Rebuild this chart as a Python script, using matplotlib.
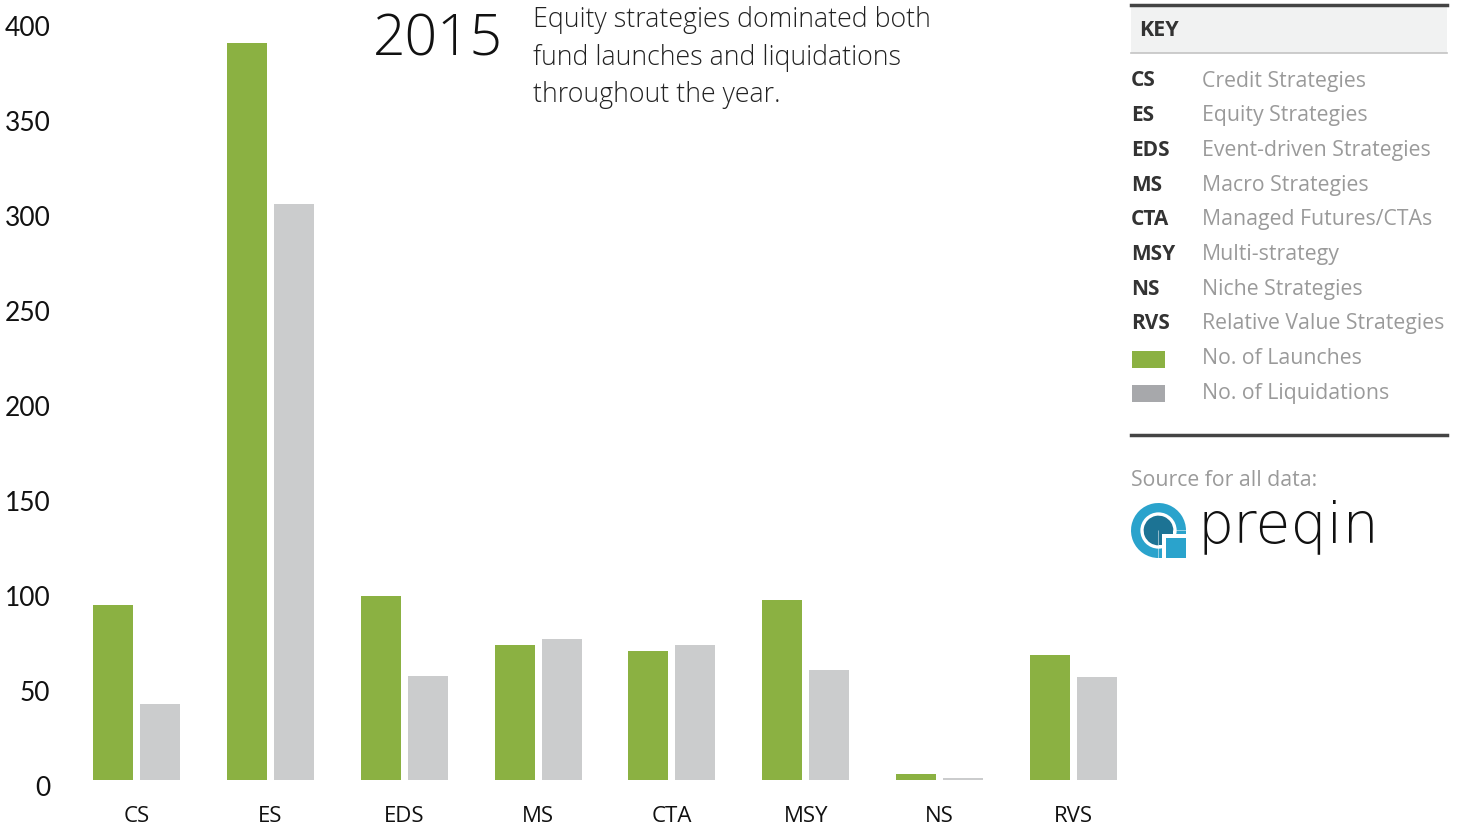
import matplotlib
matplotlib.use('Agg')
import matplotlib.pyplot as plt
import matplotlib.transforms as mtransforms
from matplotlib.patches import Rectangle, Circle, Wedge
import numpy as np

# data
categories = ["CS", "ES", "EDS", "MS", "CTA", "MSY", "NS", "RVS"]
launches = [92, 388, 97, 71, 68, 95, 3, 66]
liquidations = [40, 303, 55, 74, 71, 58, 1, 54]

key_codes = ["CS", "ES", "EDS", "MS", "CTA", "MSY", "NS", "RVS"]
key_names = ["Credit Strategies", "Equity Strategies", "Event-driven Strategies",
             "Macro Strategies", "Managed Futures/CTAs", "Multi-strategy",
             "Niche Strategies", "Relative Value Strategies"]
series_names = ["No. of Launches", "No. of Liquidations"]

GREEN = "#8bb142"
GREY = "#cbcccd"
GREY_KEY = "#a7a8ab"
DARK = "#333333"
LIGHT_TXT = "#9a9a9a"

W, H = 1466, 832
fig = plt.figure(figsize=(W / 100, H / 100), dpi=100)


def fx(x):
    return x / W


def fy(y):
    return 1 - y / H


# main axes, pixel layout: x=0 at 136.5px, step 133.9px; y=0 at 780px, 400 at 20px
step = 133.86
left_px, right_px = 70, 1130
ax = fig.add_axes([fx(left_px), fy(780), fx(right_px - left_px), (780 - 20) / H])
x = np.arange(len(categories))
bw = 40 / step
off = 23.5 / step
ax.bar(x - off, launches, width=bw, color=GREEN, linewidth=0)
ax.bar(x + off, liquidations, width=bw, color=GREY, linewidth=0)
ax.set_xlim(-(136.5 - left_px) / step, 7 + (right_px - 1073.5) / step)
ax.set_ylim(0, 400)
ax.set_yticks(range(0, 401, 50))
ax.set_xticks(x)
ax.set_xticklabels(categories)
for s in ax.spines.values():
    s.set_visible(False)
ax.tick_params(axis="both", length=0)
ax.tick_params(axis="y", pad=14, labelsize=19, labelcolor="#111111")
ax.tick_params(axis="x", pad=19, labelsize=16, labelcolor="#111111")
for lab in ax.get_yticklabels():
    lab.set_fontfamily("Lato")
    lab.set_transform(lab.get_transform() +
                      mtransforms.ScaledTranslation(0, -6 / 100, fig.dpi_scale_trans))
for lab in ax.get_xticklabels():
    lab.set_fontfamily("Open Sans")

# title block
fig.text(fx(373), fy(41), "2015", fontsize=41, family="Open Sans", fontweight="light",
         color="#111111", va="center", ha="left")
sub_lines = ["Equity strategies dominated both", "fund launches and liquidations",
             "throughout the year."]
for i, line in enumerate(sub_lines):
    fig.text(fx(533), fy(20 + 37.5 * i), line, fontsize=19.3, family="Open Sans",
             fontweight="light", color="#222222", va="center", ha="left")

# key panel
kx0, kx1 = 1131, 1447
fig.patches.append(Rectangle((fx(kx0), fy(53)), fx(kx1 - kx0), (53 - 5) / H,
                             transform=fig.transFigure, facecolor="#f1f2f2",
                             edgecolor="none"))
fig.add_artist(plt.Line2D([fx(kx0), fx(kx1)], [fy(5), fy(5)], color="#444444", lw=2.5))
fig.add_artist(plt.Line2D([fx(kx0), fx(kx1)], [fy(53), fy(53)], color="#c4c4c4", lw=1.2))
fig.text(fx(1139), fy(30), "KEY", fontsize=15.5, family="Open Sans", fontweight="bold",
         color=DARK, va="center")

row_y = [81 + 34.7 * i for i in range(10)]
for i, (c, n) in enumerate(zip(key_codes, key_names)):
    fig.text(fx(1131), fy(row_y[i]), c, fontsize=15, family="Open Sans",
             fontweight="bold", color=DARK, va="center")
    fig.text(fx(1202), fy(row_y[i]), n, fontsize=15.3, family="Open Sans",
             color=LIGHT_TXT, va="center")
for j, (name, col) in enumerate(zip(series_names, [GREEN, GREY_KEY])):
    yy = row_y[8 + j]
    fig.patches.append(Rectangle((fx(1132), fy(yy + 9)), fx(33), 17 / H,
                                 transform=fig.transFigure, facecolor=col,
                                 edgecolor="none"))
    fig.text(fx(1202), fy(yy), name, fontsize=15.3, family="Open Sans",
             color=LIGHT_TXT, va="center")

fig.add_artist(plt.Line2D([fx(kx0), fx(kx1)], [fy(435), fy(435)], color="#444444", lw=2.5))
fig.text(fx(1131), fy(481), "Source for all data:", fontsize=15.3, family="Open Sans",
         color=LIGHT_TXT, va="center")

# preqin logo (drawn in a small square axes)
lax = fig.add_axes([fx(1131), fy(558), fx(55), 55 / H])
lax.set_xlim(0, 1)
lax.set_ylim(0, 1)
lax.set_aspect("equal")
lax.axis("off")
lax.add_patch(Wedge((0.5, 0.5), 0.5, 0, 270, facecolor="#2aa3cc", edgecolor="none"))
lax.add_patch(Rectangle((0.5, 0.0), 0.5, 0.5, facecolor="#2aa3cc", edgecolor="none"))
lax.add_patch(Circle((0.5, 0.5), 0.33, facecolor="white", edgecolor="none"))
lax.add_patch(Wedge((0.5, 0.5), 0.27, 0, 270, facecolor="#1c7394", edgecolor="none"))
lax.add_patch(Rectangle((0.5, 0.23), 0.27, 0.27, facecolor="#1c7394", edgecolor="none"))
lax.add_patch(Rectangle((0.56, 0.0), 0.08, 0.44, facecolor="white", edgecolor="none"))
lax.add_patch(Rectangle((0.56, 0.36), 0.44, 0.08, facecolor="white", edgecolor="none"))
lax.add_patch(Rectangle((0.64, 0.0), 0.36, 0.36, facecolor="#2aa3cc", edgecolor="none"))
fig.text(fx(1197), fy(527), "preqin", fontsize=41, family="DejaVu Sans",
         fontweight="ultralight", color="#111111", va="center", ha="left")

fig.savefig("out.png", dpi=100)
